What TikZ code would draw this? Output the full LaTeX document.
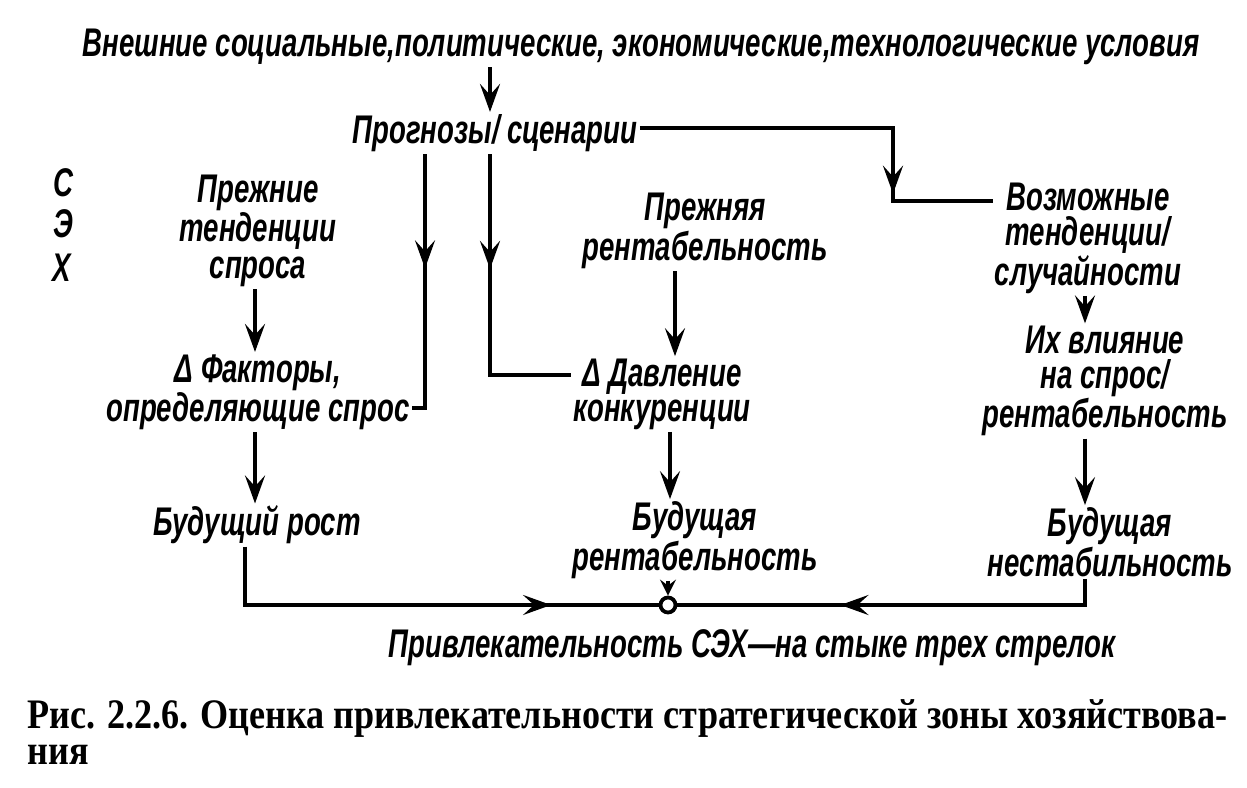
\documentclass[tikz,border=0pt]{standalone}
\usepackage{fontspec}
\setmainfont{Liberation Serif}
\newfontfamily\hand{Liberation Sans}[FakeStretch=0.69]
\newfontfamily\capfont{Liberation Serif}[FakeStretch=0.86]
\usetikzlibrary{arrows.meta,decorations.markings}
\tikzset{
  txt/.style={font=\hand\bfseries\itshape\fontsize{20}{17.5}\selectfont, align=center, inner sep=1pt},
  ln/.style={line width=1.9pt, line join=miter},
  tipstyle/.tip={Stealth[length=14pt,width=10pt,inset=5.5pt]},
  smalltip/.tip={Stealth[length=8pt,width=8pt,inset=3pt]},
  arr/.style={ln,-tipstyle},
  shortarr/.style={ln,-smalltip},
  midarr/.style={ln,postaction=decorate,decoration={markings,mark=at position #1 with {\arrow{tipstyle}}}},
  captxt/.style={font=\capfont\bfseries\fontsize{21}{18}\selectfont, inner sep=0pt, anchor=base west}
}
\begin{document}
\begin{tikzpicture}[x=0.5pt,y=-0.5pt]
\useasboundingbox[fill=white] (0,0) rectangle (1247,787);

% texts
\node[txt] (top) at (641,47) {Внешние социальные,политические, экономические,технологические условия};
\node[txt] (prog) at (495,133) {Прогнозы/ сценарии};
\node[txt] (lS) at (63,183) {С};
\node[txt] (lE) at (63,224) {Э};
\node[txt] (lX) at (62,268) {Х};
\node[txt, font=\hand\bfseries\itshape\fontsize{20}{18.5}\selectfont] (prezh) at (258,231) {Прежние\\тенденции\\спроса};
\node[txt] (fakt) at (258,392) {Δ Факторы,\\определяющие спрос};
\node[txt] (bud1) at (257,525) {Будущий рост};
\node[txt] (prezhR) at (705,231) {Прежняя\\рентабельность};
\node[txt] (davl) at (662,394) {Δ Давление\\конкуренции};
\node[txt] (bud2) at (695,540) {Будущая\\рентабельность};
\node[txt] (vozm) at (1088,238) {Возможные\\тенденции/\\случайности};
\node[txt] (vliy) at (1105,381) {Их влияние\\на спрос/\\рентабельность};
\node[txt] (bud3) at (1110,542) {Будущая\\нестабильность};
\node[txt] (attr) at (752,648) {Привлекательность СЭХ—на стыке трех стрелок};
\node[circle, draw, line width=1.9pt, fill=white, minimum size=7.5pt, inner sep=0pt] (junc) at (668,605) {};

\node[captxt] (cap1) at (27,728) {Рис. 2.2.6. Оценка привлекательности стратегической зоны хозяйствова-};
\node[captxt] (cap2) at (27,764) {ния};

% coordinates of bends
\coordinate (k1) at (893,128);
\coordinate (k2) at (893,201);
\coordinate (v1) at (425,408);
\coordinate (v2) at (490,375);
\coordinate (b1) at (245,605);
\coordinate (b3) at (1085,605);

% connectors
\draw[arr] (top.south -| 490,0) -- (prog.north -| 490,0);
\draw[ln] (prog.east |- k1) -- (k1) -- (k2) -- (vozm.west |- k2);
\draw[midarr=0.9] (k1) -- (k2);

\draw[ln] (prog.south -| v1) -- (v1) -- (fakt.east |- v1);
\draw[midarr=0.45] (prog.south -| v1) -- (v1);
\draw[ln] (prog.south -| v2) -- (v2) -- (davl.west |- v2);
\draw[midarr=0.52] (prog.south -| v2) -- (v2);

\draw[arr] (prezh.south -| 255,0) -- (fakt.north -| 255,0);
\draw[arr] (fakt.south -| 255,0) -- (bud1.north -| 255,0);
\draw[arr] (prezhR.south -| 675,0) -- (davl.north -| 675,0);
\draw[arr] (davl.south -| 670,0) -- (bud2.north -| 670,0);
\draw[arr] (vozm.south -| 1085,0) -- (vliy.north -| 1085,0);
\draw[arr] (vliy.south -| 1085,0) -- (bud3.north -| 1085,0);
\draw[shortarr] (bud2.south -| junc) -- (junc.north);

\draw[ln] (bud1.south -| b1) -- (b1) -- (junc.west);
\draw[midarr=0.74] (b1) -- (junc.west);
\draw[ln] (bud3.south -| b3) -- (b3) -- (junc.east);
\draw[midarr=0.6] (b3) -- (junc.east);
\end{tikzpicture}
\end{document}
